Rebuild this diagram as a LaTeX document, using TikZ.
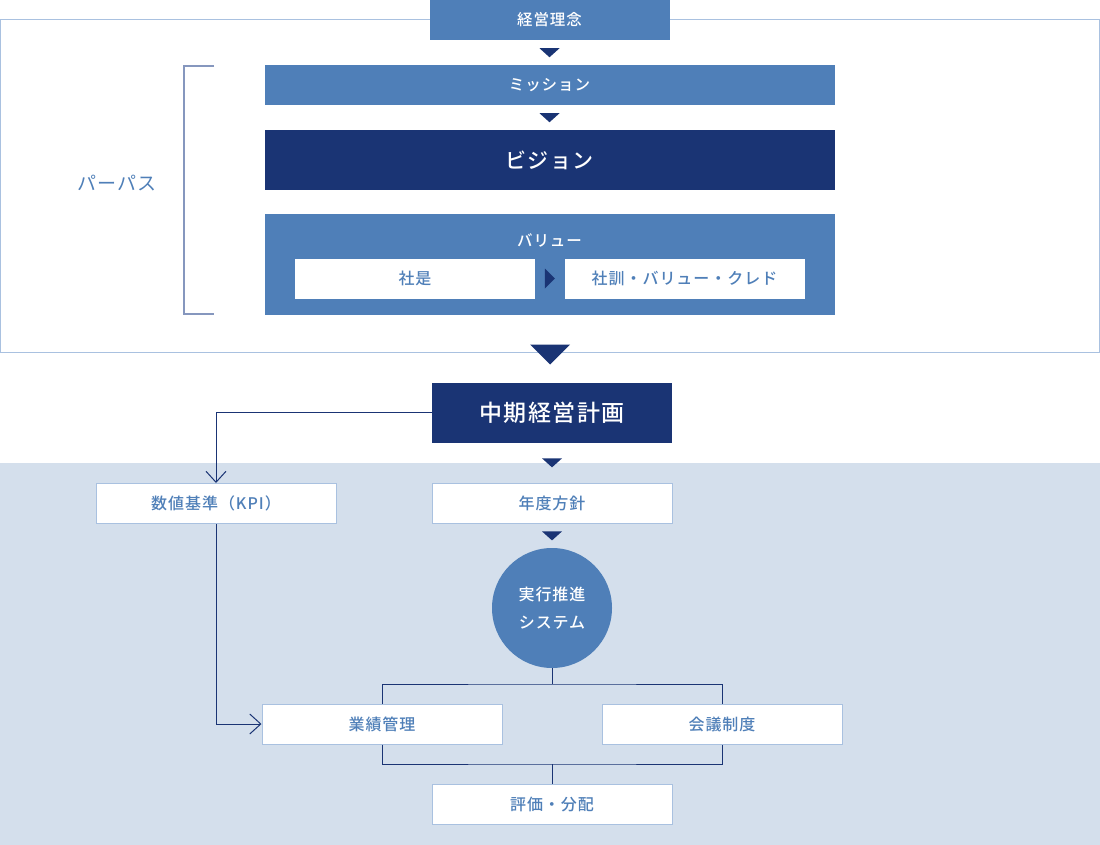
\documentclass[tikz,border=0pt]{standalone}
\usepackage{fontspec}
\setmainfont{Noto Sans CJK JP}[LetterSpace=6, BoldFont={Noto Sans CJK JP Medium}]
\usepackage{tikz}
\usetikzlibrary{arrows.meta, positioning, calc}
\definecolor{midblue}{HTML}{4F7FB8}
\definecolor{navy}{HTML}{1A3474}
\definecolor{paleblue}{HTML}{D4DFEC}
\definecolor{edgeblue}{HTML}{A9C1E0}
\definecolor{bracketblue}{HTML}{8697BE}

\begin{document}
\begin{tikzpicture}[x=1pt, y=-1pt,
    frame/.style={rectangle, draw=edgeblue, fill=white, line width=1pt, minimum width=1099pt, minimum height=332pt},
    band/.style={rectangle, fill=midblue, text=white, inner sep=0pt, minimum width=570pt, minimum height=40pt, font=\fontsize{15.5}{18}\selectfont\bfseries},
    head/.style={rectangle, fill=navy, text=white, inner sep=0pt, minimum width=570pt, minimum height=60pt, font=\fontsize{21}{24}\selectfont\bfseries},
    whitebox/.style={rectangle, draw=edgeblue, fill=white, text=midblue, line width=1pt, inner sep=0pt, minimum width=240pt, minimum height=40pt, font=\fontsize{16}{18}\selectfont\bfseries},
    hub/.style={circle, fill=midblue, text=white, inner sep=0pt, minimum size=120pt, align=center, font=\fontsize{16}{28}\selectfont\bfseries},
    link/.style={-{Straight Barb[length=11pt, width=20pt]}, line width=1pt, color=navy},
    tree/.style={line width=1pt, color=navy}
]
\useasboundingbox (0,0) rectangle (1100,845);
\fill[paleblue] (0,463) rectangle (1100,845);

\node[frame] (purpose) at (550,186) {};
\node[band, minimum width=240pt] (keiei) at (549.5,20) {経営理念};
\node[band] (mission) at (549.5,85.5) {ミッション};
\node[head] (vision) at (549.5,160) {ビジョン};
\node[band, minimum height=100pt] (value) at (549.5,264.5) {};
\node[text=white, font=\fontsize{15.5}{18}\selectfont\bfseries] (valuetitle) at (549.5,240) {バリュー};
\node[whitebox, draw=none] (shaze) at (415,278.5) {社是};
\node[whitebox, draw=none] (credo) at (684.5,278.5) {社訓・バリュー・クレド};

% purpose bracket
\draw[bracketblue, line width=1.5pt] (214,66) -- (184,66) -- (184,314) -- (214,314);
\node[text=midblue, font=\fontsize{19}{22}\selectfont] (purposelabel) at (117,183) {パーパス};

\node[head, minimum width=240pt, font=\fontsize{23}{26}\selectfont\bfseries] (chuki) at (552,412.5) {中期経営計画};
\node[whitebox] (kpi) at (216,503.5) {数値基準（KPI）};
\node[whitebox] (nendo) at (552,503.5) {年度方針};
\node[hub] (jikko) at (552,608) {実行推進\\システム};
\node[whitebox] (gyoseki) at (382,724) {業績管理};
\node[whitebox] (kaigi) at (722,724) {会議制度};
\node[whitebox] (hyoka) at (552,804) {評価・分配};

% triangles
\fill[navy] ($(keiei.south)!0.5!(mission.north)+(-10,-4.5)$) -- ++(20,0) -- ++(-10,9) -- cycle;
\fill[navy] ($(mission.south)!0.5!(vision.north)+(-10,-4.5)$) -- ++(20,0) -- ++(-10,9) -- cycle;
\fill[navy] ($(shaze.east)!0.5!(credo.west)+(-5,-10)$) -- ++(10,10) -- ++(-10,10) -- cycle;
\fill[navy] ($(purpose.south)+(-20,-8)$) -- ++(40,0) -- ++(-20,20) -- cycle;
\fill[navy] ($(chuki.south)!0.5!(nendo.north)+(-10,-4.5)$) -- ++(20,0) -- ++(-10,9) -- cycle;
\fill[navy] ($(nendo.south)!0.5!(jikko.north)+(-10,-4.5)$) -- ++(20,0) -- ++(-10,9) -- cycle;

% connectors
\coordinate (split) at (552,684);
\coordinate (merge) at (552,764);
\draw[link] (chuki.west) -| (kpi.north);
\draw[link] (kpi.south) |- (gyoseki.west);
\draw[tree] (jikko.south) -- (split);
\draw[tree] (gyoseki.north) |- (split) -| (kaigi.north);
\draw[tree] (gyoseki.south) |- (merge) -| (kaigi.south);
\draw[tree] (merge) -- (hyoka.north);
\end{tikzpicture}
\end{document}
